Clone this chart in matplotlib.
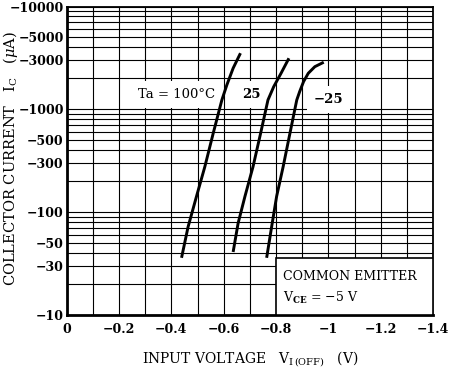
import numpy as np
import matplotlib
matplotlib.use('Agg')
import matplotlib.pyplot as plt
from matplotlib.patches import Rectangle
from matplotlib.ticker import FixedLocator, FixedFormatter, LogLocator, NullFormatter

plt.rcParams['font.family'] = 'DejaVu Serif'
plt.rcParams['mathtext.fontset'] = 'dejavuserif'

# input voltage V_I(OFF) (V) and collector current I_C (uA)
v_100 = [-0.439, -0.464, -0.496, -0.528, -0.560, -0.593, -0.612, -0.636, -0.664]
ic_100 = [-36, -72, -142, -277, -586, -1233, -1726, -2512, -3516]

v_25 = [-0.636, -0.655, -0.681, -0.712, -0.741, -0.769, -0.791, -0.819, -0.849]
ic_25 = [-41, -78, -142, -277, -586, -1233, -1662, -2244, -3140]

v_m25 = [-0.764, -0.783, -0.802, -0.827, -0.853, -0.879, -0.890, -0.905, -0.923, -0.948, -0.982]
ic_m25 = [-36, -72, -142, -277, -586, -1233, -1486, -1862, -2244, -2600, -2872]

x_ticks = [0, -0.2, -0.4, -0.6, -0.8, -1, -1.2, -1.4]
x_labels = ['0', '\u22120.2', '\u22120.4', '\u22120.6', '\u22120.8', '\u22121', '\u22121.2', '\u22121.4']
y_ticks = [10, 30, 50, 100, 300, 500, 1000, 3000, 5000, 10000]
y_labels = ['\u2212{}'.format(v) for v in y_ticks]


def main():
    fig = plt.figure(figsize=(4.56, 3.73), dpi=100)
    ax = fig.add_axes([0.146, 0.1555, 0.804, 0.827])

    ax.set_yscale('log')
    ax.set_xlim(0, -1.4)
    ax.set_ylim(10, 10000)

    # grid: every 0.1 V and every log minor decade step
    ax.set_xticks(np.arange(0, -1.41, -0.1), minor=True)
    ax.xaxis.set_major_locator(FixedLocator(x_ticks))
    ax.xaxis.set_major_formatter(FixedFormatter(x_labels))
    ax.yaxis.set_major_locator(FixedLocator(y_ticks))
    ax.yaxis.set_major_formatter(FixedFormatter(y_labels))
    ax.yaxis.set_minor_locator(LogLocator(base=10, subs=np.arange(2, 10)))
    ax.yaxis.set_minor_formatter(NullFormatter())
    ax.grid(True, which='both', color='black', linewidth=0.8)
    ax.set_axisbelow(True)
    ax.tick_params(which='both', length=0)
    ax.tick_params(axis='x', pad=6, labelsize=9)
    ax.tick_params(axis='y', pad=2, labelsize=9)
    for lab in ax.get_xticklabels() + ax.get_yticklabels():
        lab.set_fontweight('bold')

    for side in ['left', 'bottom']:
        ax.spines[side].set_linewidth(2)
    for side in ['top', 'right']:
        ax.spines[side].set_linewidth(1.3)

    for v, ic in [(v_100, ic_100), (v_25, ic_25), (v_m25, ic_m25)]:
        ax.plot(v, np.abs(ic), 'k-', linewidth=2.1, solid_capstyle='butt',
                solid_joinstyle='round', zorder=3)

    box = dict(facecolor='white', edgecolor='none', pad=5)
    ax.text(-0.272, 1380, 'Ta = 100\u00b0C', fontsize=9.5, ha='left', va='center',
            bbox=box, zorder=2)
    ax.text(-0.707, 1380, '25', fontsize=9.5, fontweight='bold', ha='center', va='center',
            bbox=box, zorder=2)
    ax.text(-1.0, 1250, '\u221225', fontsize=9.5, fontweight='bold', ha='center', va='center',
            bbox=box, zorder=2)

    ax.add_patch(Rectangle((-0.8, 10), -0.6, 26, facecolor='white', edgecolor='black',
                           linewidth=1.2, zorder=4))
    ax.text(-0.826, 23.5, 'COMMON EMITTER', fontsize=9, ha='left', va='center', zorder=5)
    ax.text(-0.826, 14.6, 'V$_{\\mathbf{CE}}$ = \u22125 V', fontsize=9, ha='left',
            va='center', zorder=5)

    ax.set_xlabel('INPUT VOLTAGE   V$_{\\mathrm{I\\,(OFF)}}$   (V)', fontsize=10, labelpad=10)
    fig.text(11 / 456, 1 - 158 / 373, 'COLLECTOR CURRENT   I$\\mathrm{_C}$   ($\\mu$A)',
             fontsize=10.5, rotation=90, ha='center', va='center')

    fig.savefig('out.png', dpi=100)


if __name__ == '__main__':
    main()
